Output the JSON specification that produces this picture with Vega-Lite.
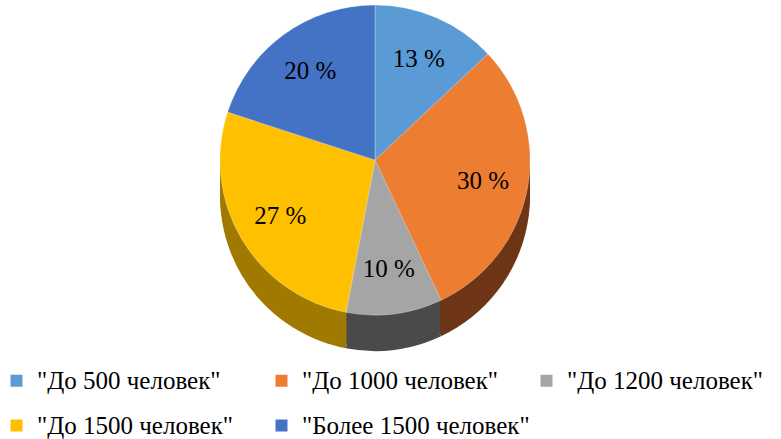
{
  "$schema": "https://vega.github.io/schema/vega-lite/v6.json",
  "width": 750,
  "height": 320,
  "autosize": "none",
  "padding": {"left": 0, "top": 0, "right": 31, "bottom": 119},
  "background": "white",
  "config": {"font": "Liberation Serif, Times New Roman, serif"},
  "data": {"values": [
    {"k": 1, "cat": "\"До 500 человек\"", "v": 13, "label": "13 %"},
    {"k": 2, "cat": "\"До 1000 человек\"", "v": 30, "label": "30 %"},
    {"k": 3, "cat": "\"До 1200 человек\"", "v": 10, "label": "10 %"},
    {"k": 4, "cat": "\"До 1500 человек\"", "v": 27, "label": "27 %"},
    {"k": 5, "cat": "\"Более 1500 человек\"", "v": 20, "label": "20 %"}
  ]},
  "encoding": {
    "theta": {"field": "v", "type": "quantitative", "stack": true},
    "order": {"field": "k", "type": "ordinal"}
  },
  "resolve": {"scale": {"color": "independent"}, "legend": {"color": "independent"}},
  "layer": [
    {
      "encoding": {"color": {"field": "cat", "type": "nominal", "legend": null, "scale": {"domain": ["\"До 500 человек\"", "\"До 1000 человек\"", "\"До 1200 человек\"", "\"До 1500 человек\"", "\"Более 1500 человек\""], "range": ["#3d6c96", "#6e3616", "#4a4a4a", "#a07a00", "#2f5090"]}}},
      "layer": [
        {"mark": {"type": "arc", "outerRadius": 155, "yOffset": 36}},
        {"mark": {"type": "arc", "outerRadius": 155, "yOffset": 32}},
        {"mark": {"type": "arc", "outerRadius": 155, "yOffset": 28}},
        {"mark": {"type": "arc", "outerRadius": 155, "yOffset": 24}},
        {"mark": {"type": "arc", "outerRadius": 155, "yOffset": 20}},
        {"mark": {"type": "arc", "outerRadius": 155, "yOffset": 16}},
        {"mark": {"type": "arc", "outerRadius": 155, "yOffset": 12}},
        {"mark": {"type": "arc", "outerRadius": 155, "yOffset": 8}},
        {"mark": {"type": "arc", "outerRadius": 155, "yOffset": 4}}
      ]
    },
    {
      "encoding": {"color": {"field": "cat", "type": "nominal",
        "scale": {"domain": ["\"До 500 человек\"", "\"До 1000 человек\"", "\"До 1200 человек\"", "\"До 1500 человек\"", "\"Более 1500 человек\""], "range": ["#5B9BD5", "#ED7D31", "#A5A5A5", "#FFC000", "#4472C4"]},
        "legend": {"title": null, "orient": "none", "legendX": 4, "legendY": 368, "direction": "horizontal", "columns": 3, "gridAlign": "all", "symbolType": "square", "symbolSize": 144, "symbolStrokeWidth": 0, "labelFont": "Liberation Serif, Times New Roman, serif", "labelFontSize": 25, "labelColor": "#000000", "labelOffset": 8, "labelLimit": 400, "columnPadding": 4, "rowPadding": 19}}},
      "layer": [
        {"mark": {"type": "arc", "outerRadius": 155, "stroke": "#ffffff", "strokeWidth": 0.6, "strokeOpacity": 0.5}},
        {"mark": {"type": "text", "radius": 110, "font": "Liberation Serif, Times New Roman, serif", "fontSize": 25, "color": "#000000"},
         "encoding": {"text": {"field": "label", "type": "nominal"}, "color": {"value": "#000000"}}}
      ]
    }
  ]
}
